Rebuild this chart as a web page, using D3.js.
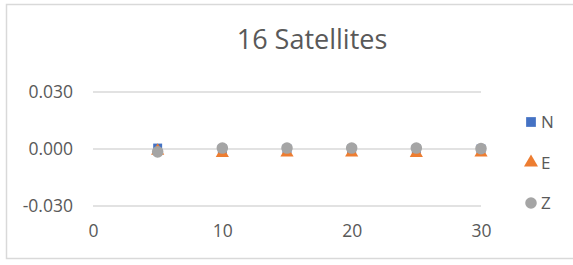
<!DOCTYPE html>
<html><head><meta charset="utf-8">
<script src="https://cdn.jsdelivr.net/npm/d3@7"></script>
<style>body{margin:0;background:#fff}svg{display:block}text{font-family:"Open Sans",sans-serif;fill:#595959}</style>
</head><body>
<script>
const xs = [5, 10, 15, 20, 25, 30];
const nVals = [0.0005, 0.0000, 0.0000, 0.0000, 0.0000, 0.0000];
const eVals = [-0.0010, -0.0022, -0.0020, -0.0020, -0.0022, -0.0020];
const zVals = [-0.0015, 0.0005, 0.0005, 0.0005, 0.0005, 0.0002];
const xTicks = [0, 10, 20, 30];
const yTicks = [-0.03, 0, 0.03];
const seriesNames = ["N", "E", "Z"];
const colors = ["#4472c4", "#ed7d31", "#a5a5a5"];

const W = 573, H = 265;
const svg = d3.select("body").append("svg").attr("width", W).attr("height", H);
svg.append("rect").attr("x", 6.5).attr("y", 4.5).attr("width", 600).attr("height", 254)
  .attr("fill", "#fff").attr("stroke", "#d9d9d9").attr("stroke-width", 1.5);

svg.append("text").attr("x", 312).attr("y", 49).attr("text-anchor", "middle")
  .style("font-size", "27px").text("16 Satellites");

const x = d3.scaleLinear().domain([0, 30]).range([93, 481]);
const y = d3.scaleLinear().domain([-0.03, 0.03]).range([206, 92]);

const grid = svg.append("g");
grid.selectAll("line").data(yTicks).join("line")
  .attr("x1", x(0)).attr("x2", x(30))
  .attr("y1", d => y(d)).attr("y2", d => y(d))
  .attr("stroke", "#d9d9d9").attr("stroke-width", 1.5);

const fmt = d => d3.format(".3f")(d).replace("−", "-");
const yAxis = svg.append("g").attr("transform", `translate(${x(0) - 20},0)`)
  .call(d3.axisLeft(y).tickValues(yTicks).tickFormat(fmt).tickSize(0).tickPadding(0));
yAxis.select(".domain").remove();
yAxis.selectAll("text").style("font-size", "17.5px").attr("fill", "#595959").attr("font-family", null);

const xAxis = svg.append("g").attr("transform", `translate(0,${y(-0.03) + 19})`)
  .call(d3.axisBottom(x).tickValues(xTicks).tickSize(0).tickPadding(0));
xAxis.select(".domain").remove();
xAxis.selectAll("text").style("font-size", "17.5px").attr("fill", "#595959").attr("font-family", null).attr("dy", "0.71em");

const sym = [d3.symbolSquare, d3.symbolTriangle, d3.symbolCircle];
const sizes = [80, 75, 105];
const data = [nVals, eVals, zVals];
data.forEach((vals, i) => {
  svg.append("g").selectAll("path").data(vals).join("path")
    .attr("d", d3.symbol(sym[i], sizes[i]))
    .attr("transform", (d, j) => `translate(${x(xs[j])},${y(d)})`)
    .attr("fill", colors[i]);
});

const legendSizes = [95, 85, 105];
const lg = svg.append("g");
seriesNames.forEach((n, i) => {
  const cy = 122 + i * 40.5;
  lg.append("path").attr("d", d3.symbol(sym[i], legendSizes[i]))
    .attr("transform", `translate(531,${cy})`).attr("fill", colors[i]);
  lg.append("text").attr("x", 541).attr("y", cy).attr("dy", "0.36em")
    .style("font-size", "17px").text(n);
});
</script>
</body></html>
